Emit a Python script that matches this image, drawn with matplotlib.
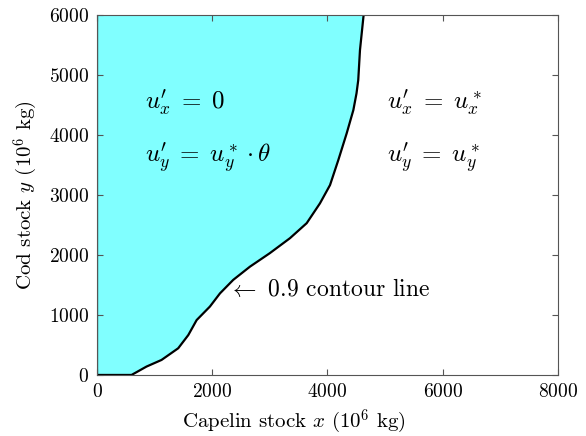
import matplotlib
matplotlib.use('Agg')
import matplotlib.pyplot as plt

# 0.9 contour line (x: capelin, y: cod, 10^6 kg)
contour_x = [0, 600, 860, 1120, 1410, 1585, 1730, 1960, 2135, 2365, 2655,
             3000, 3350, 3640, 3870, 4045, 4190, 4335, 4450, 4505, 4535,
             4565, 4625, 4630]
contour_y = [0, 0, 140, 250, 445, 665, 915, 1140, 1360, 1585, 1805,
             2030, 2280, 2530, 2860, 3165, 3585, 4030, 4415, 4695, 4915,
             5415, 5970, 6000]

x_ticks = [0, 2000, 4000, 6000, 8000]
y_ticks = [0, 1000, 2000, 3000, 4000, 5000, 6000]

plt.rcParams['font.family'] = 'serif'
plt.rcParams['font.serif'] = ['cmr10', 'DejaVu Serif']
plt.rcParams['mathtext.fontset'] = 'cm'
plt.rcParams['axes.formatter.use_mathtext'] = True

fig = plt.figure(figsize=(5.86, 4.36), dpi=100)
ax = fig.add_axes([0.1655, 0.14, 0.7865, 0.8256])

# shaded region: everything left of the contour
poly_x = contour_x + [0]
poly_y = contour_y + [6000]
ax.fill(poly_x, poly_y, facecolor='#80FFFF', edgecolor='none', zorder=1)
ax.plot(contour_x, contour_y, color='black', lw=1.6, zorder=2)
ax.plot([0, 0], [0, 6000], color='black', lw=1.6, zorder=2)

fs = 18
ax.text(830, 4530, r"$u_x^{\prime} \;=\; 0$", fontsize=fs, va='center')
ax.text(830, 3630, r"$u_y^{\prime} \;=\; u^*_y \cdot \theta$", fontsize=fs, va='center')
ax.text(5030, 4530, r"$u_x^{\prime} \;=\; u^*_x$", fontsize=fs, va='center')
ax.text(5030, 3630, r"$u_y^{\prime} \;=\; u^*_y$", fontsize=fs, va='center')
ax.text(2280, 1430, r"$\leftarrow$ 0.9 contour line", fontsize=17, va='center')

ax.set_xlim(0, 8000)
ax.set_ylim(0, 6000)
ax.set_xticks(x_ticks)
ax.set_yticks(y_ticks)
ax.tick_params(direction='in', top=True, right=True, labelsize=14,
               length=4, color='#555555', pad=6)
for s in ax.spines.values():
    s.set_color('#555555')
    s.set_linewidth(0.8)

ax.set_xlabel(r"Capelin stock $x$ ($10^6$ kg)", fontsize=15)
ax.xaxis.set_label_coords(0.427, -0.09)
ax.set_ylabel(r"Cod stock $y$ ($10^6$ kg)", fontsize=15, labelpad=6)

fig.savefig('out.png', dpi=100)
